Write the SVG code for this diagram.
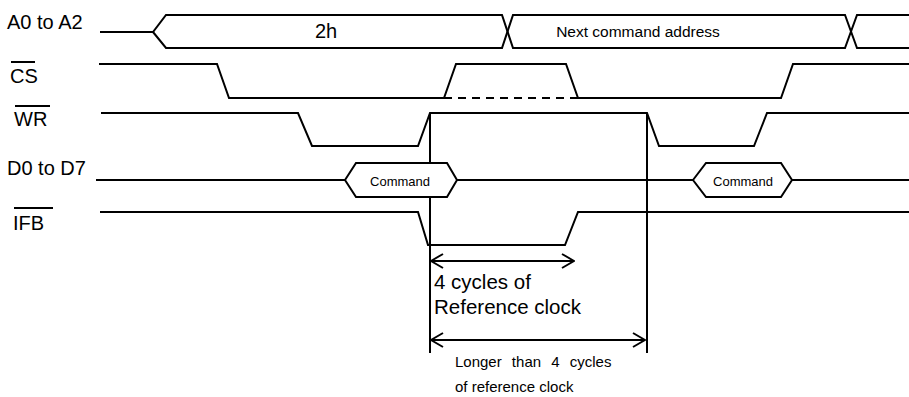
<svg xmlns="http://www.w3.org/2000/svg" width="909" height="397" viewBox="0 0 909 397">
<defs>
<style>
.s{fill:none;stroke:#000;stroke-width:2;stroke-linejoin:miter}
.hx{fill:#fff;stroke:#000;stroke-width:2;stroke-linejoin:miter}
.d{fill:none;stroke:#000;stroke-width:2;stroke-dasharray:8,6}
.lbl{font-family:"Liberation Sans",Arial,sans-serif;font-size:20px;fill:#000}
.sm{font-family:"Liberation Sans",Arial,sans-serif;font-size:15px;fill:#000}
.cmd{font-family:"Liberation Sans",Arial,sans-serif;font-size:13px;fill:#000}
.md{font-family:"Liberation Sans",Arial,sans-serif;font-size:20.5px;fill:#000}
</style>
<marker id="ah" viewBox="0 0 14 16" refX="13" refY="8" markerWidth="14" markerHeight="16" markerUnits="userSpaceOnUse" orient="auto-start-reverse">
<path d="M1,1 L13,8 L1,15" fill="none" stroke="#000" stroke-width="2"/>
</marker>
</defs>
<rect width="909" height="397" fill="#fff"/>

<g id="connectors">
<line class="s" x1="430" y1="113" x2="430" y2="353"/>
<line class="s" x1="647" y1="113" x2="647" y2="353"/>
<line class="s" x1="431" y1="261" x2="574" y2="261" marker-start="url(#ah)" marker-end="url(#ah)"/>
<line class="s" x1="431" y1="340" x2="645" y2="340" marker-start="url(#ah)" marker-end="url(#ah)"/>
</g>

<g id="sig-a">
<text class="lbl" x="7" y="29">A0 to A2</text>
<path class="s" d="M100,32 H153 L166,15 H502 L513,48 H845 L857,15 H909"/>
<path class="s" d="M153,32 L166,48 H502 L513,15 H845 L857,48 H909"/>
<text class="lbl" x="326" y="38" text-anchor="middle">2h</text>
<text class="sm" x="638" y="37" text-anchor="middle" style="font-size:15.5px">Next command address</text>
</g>

<g id="sig-cs">
<text class="lbl" x="10" y="83">CS</text>
<line class="s" x1="11" y1="62" x2="35" y2="62" stroke-width="1.5"/>
<path class="s" d="M99,64 H217 L229,98 H444 L456,64 H566 L578,98 H781 L793,64 H909"/>
<line class="d" x1="444" y1="98" x2="578" y2="98"/>
</g>

<g id="sig-wr">
<text class="lbl" x="14" y="126">WR</text>
<line class="s" x1="15" y1="106" x2="50" y2="106" stroke-width="1.5"/>
<path class="s" d="M101,113 H298 L312,146 H418 L430,113 H647 L659,146 H754 L767,113 H909"/>
</g>

<g id="sig-d">
<text class="lbl" x="7" y="175">D0 to D7</text>
<path class="s" d="M96,180 H345"/>
<path class="hx" d="M345,180 L356,163 H447 L457,180 L447,197 H356 Z"/>
<path class="s" d="M457,180 H693"/>
<path class="hx" d="M693,180 L706,163 H781 L792,180 L781,197 H706 Z"/>
<path class="s" d="M792,180 H909"/>
<text class="cmd" x="400" y="186" text-anchor="middle">Command</text>
<text class="cmd" x="743" y="186" text-anchor="middle">Command</text>
</g>

<g id="sig-ifb">
<text class="lbl" x="13" y="230">IFB</text>
<line class="s" x1="14" y1="208" x2="53" y2="208" stroke-width="1.5"/>
<path class="s" d="M100,212 H418 L428,245 H565 L578,212 H909"/>
</g>

<g id="notes">
<text class="md" x="434" y="289">4 cycles of</text>
<text class="md" x="434" y="314">Reference clock</text>
<text class="sm" x="455" y="367" word-spacing="6">Longer than 4 cycles</text>
<text class="sm" x="455" y="392">of reference clock</text>
</g>
</svg>
